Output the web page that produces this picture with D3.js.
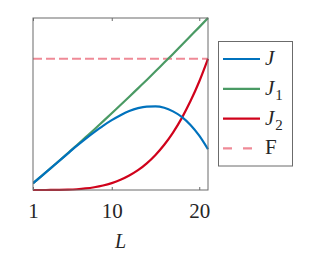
<!DOCTYPE html>
<meta charset="utf-8">
<head>
  <script src="https://d3js.org/d3.v7.min.js"></script>
<style>
body { margin: 0; background: #fff; }
</style>
</head>
<body>
<script>

// Data
var L  = [1, 2, 3, 4, 5, 6, 7, 8, 9, 10, 11, 12, 13, 14, 15, 16, 17, 18, 19, 20, 21];
var J1 = [0.039, 0.082, 0.126, 0.170, 0.215, 0.260, 0.306, 0.352, 0.399, 0.446, 0.494,
          0.542, 0.591, 0.640, 0.690, 0.741, 0.791, 0.843, 0.895, 0.947, 1.000];
var J2 = [0.000, 0.000, 0.0002, 0.0007, 0.002, 0.0045, 0.009, 0.016, 0.026, 0.040, 0.059,
          0.084, 0.115, 0.155, 0.204, 0.263, 0.334, 0.418, 0.517, 0.631, 0.763];
var J  = [0.039, 0.082, 0.126, 0.169, 0.213, 0.256, 0.297, 0.336, 0.373, 0.406, 0.435,
          0.459, 0.476, 0.485, 0.486, 0.478, 0.457, 0.425, 0.378, 0.316, 0.237];
var F  = 0.763;
var xTicks = [1, 10, 20];

var series = [
  {name: "J",  sub: "",  vals: J,  color: "#0072BD", dash: null},
  {name: "J",  sub: "1", vals: J1, color: "#4A9A64", dash: null},
  {name: "J",  sub: "2", vals: J2, color: "#D0021B", dash: null},
  {name: "F",  sub: "",  vals: null, color: "#EF8A97", dash: "9,4"}
];

var pLeft = 33, pRight = 208, pTop = 18, pBottom = 190;
var serif = "Liberation Serif, DejaVu Serif, serif";

var svg = d3.select("body").append("svg")
    .attr("width", 314)
    .attr("height", 257);

var x = d3.scaleLinear().domain([1, 21]).range([pLeft, pRight]);
var y = d3.scaleLinear().domain([0, 1]).range([pBottom, pTop]);

var line = d3.line()
    .x(function(d, i) { return x(L[i]); })
    .y(function(d) { return y(d); })
    .curve(d3.curveMonotoneX);

svg.append("clipPath").attr("id", "clip")
    .append("rect").attr("x", pLeft).attr("y", pTop - 2)
    .attr("width", pRight - pLeft + 2).attr("height", pBottom - pTop + 3);

var plot = svg.append("g").attr("clip-path", "url(#clip)");

// F line
plot.append("line")
    .attr("x1", x(1)).attr("x2", x(21))
    .attr("y1", y(F)).attr("y2", y(F))
    .attr("stroke", series[3].color)
    .attr("stroke-width", 2.2)
    .attr("stroke-dasharray", series[3].dash);

// J1, J2, J
[series[1], series[2], series[0]].forEach(function(s) {
  plot.append("path")
      .datum(s.vals)
      .attr("fill", "none")
      .attr("stroke", s.color)
      .attr("stroke-width", 2.2)
      .attr("d", line);
});

// Axes box
var axisColor = "#6b6b6b";
svg.append("rect")
    .attr("x", pLeft).attr("y", pTop)
    .attr("width", pRight - pLeft).attr("height", pBottom - pTop)
    .attr("fill", "none").attr("stroke", axisColor).attr("stroke-width", 1);

// bottom axis with inward ticks
var xAxis = svg.append("g")
    .attr("transform", "translate(0," + pBottom + ")")
    .call(d3.axisBottom(x).tickValues(xTicks).tickSizeInner(-3).tickSizeOuter(0).tickPadding(10));
xAxis.attr("font-size", 21).attr("font-family", serif);
xAxis.select(".domain").remove();
xAxis.selectAll("line").attr("stroke", axisColor);
xAxis.selectAll("text").attr("fill", "#262626").attr("dy", "0.85em");

var xTop = svg.append("g")
    .attr("transform", "translate(0," + pTop + ")")
    .call(d3.axisTop(x).tickValues(xTicks).tickSizeInner(-3).tickSizeOuter(0).tickFormat(""));
xTop.select(".domain").remove();
xTop.selectAll("line").attr("stroke", axisColor);

// x label
svg.append("text")
    .attr("x", (pLeft + pRight) / 2)
    .attr("y", 248)
    .attr("text-anchor", "middle")
    .attr("font-family", serif)
    .attr("font-style", "italic")
    .attr("font-size", 20)
    .attr("fill", "#262626")
    .text("L");

// Legend
var lg = svg.append("g");
lg.append("rect")
    .attr("x", 218.5).attr("y", 41.5)
    .attr("width", 74).attr("height", 124.5)
    .attr("fill", "#fff").attr("stroke", axisColor).attr("stroke-width", 1);

series.forEach(function(s, i) {
  var yy = 59 + i * 29.8;
  lg.append("line")
      .attr("x1", 223).attr("x2", s.dash ? 253 : 260)
      .attr("y1", yy).attr("y2", yy)
      .attr("stroke", s.color).attr("stroke-width", 2.2)
      .attr("stroke-dasharray", s.dash ? "9,11" : null);
  var t = lg.append("text")
      .attr("x", 265).attr("y", yy + 6)
      .attr("font-family", serif)
      .attr("font-size", 21)
      .attr("fill", "#262626");
  t.append("tspan")
      .attr("font-style", s.name === "F" ? "normal" : "italic")
      .text(s.name);
  if (s.sub) {
    t.append("tspan")
        .attr("font-size", 15)
        .attr("dy", 5)
        .attr("dx", 1)
        .text(s.sub);
  }
});

</script>
</body>
